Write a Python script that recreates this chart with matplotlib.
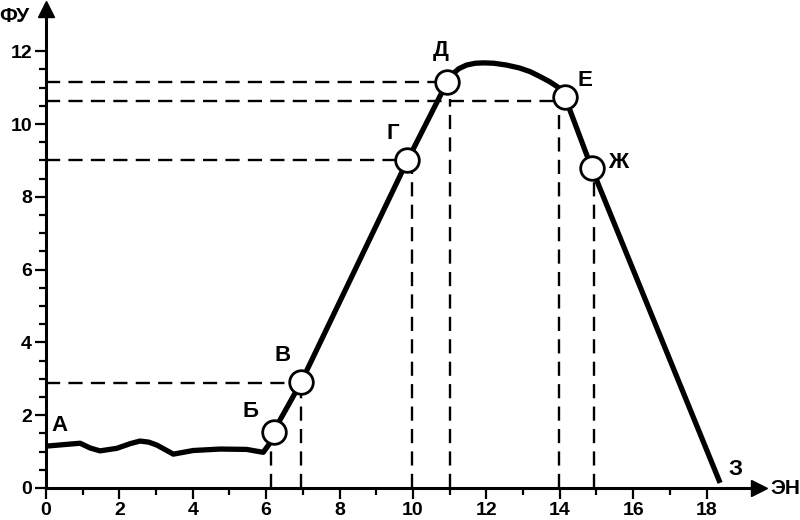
import matplotlib
matplotlib.use('Agg')
import matplotlib.pyplot as plt

plt.rcParams['font.family'] = ['Liberation Sans', 'DejaVu Sans']
plt.rcParams['font.weight'] = 'bold'

# основная кривая
curve_x = [0.0, 0.93, 1.2, 1.47, 1.93, 2.3, 2.56, 2.8, 3.02, 3.47, 4.01, 4.74, 5.47, 5.92, 6.1,
           6.2, 6.95, 9.85, 10.93, 11.1, 11.25, 11.46, 11.7, 11.92, 12.2, 12.55, 12.9, 13.19,
           13.45, 13.73, 14.0, 14.14, 14.87, 18.37]
curve_y = [1.15, 1.23, 1.1, 1.02, 1.09, 1.22, 1.29, 1.26, 1.18, 0.93, 1.03, 1.07, 1.06, 0.98, 1.23,
           1.55, 2.9, 9.0, 11.15, 11.39, 11.52, 11.62, 11.67, 11.68, 11.67, 11.62, 11.54, 11.44,
           11.31, 11.16, 10.98, 10.75, 8.79, 0.14]

# точки с кружками
pts_x = [6.2, 6.95, 9.85, 10.93, 14.14, 14.87]
pts_y = [1.55, 2.9, 9.0, 11.15, 10.75, 8.79]

# подписи точек
lbl_text = ['А', 'Б', 'В', 'Г', 'Д', 'Е', 'Ж', 'З']
lbl_x = [0.38, 5.56, 6.46, 9.46, 10.76, 14.69, 15.6, 18.8]
lbl_y = [1.73, 2.09, 3.65, 9.75, 12.03, 11.2, 8.93, 0.5]

# пунктирные линии
hline_y = [2.88, 9.0, 11.15, 10.64]
hline_x = [6.85, 9.75, 10.85, 14.0]
vline_x = [6.13, 6.94, 9.97, 11.0, 13.98, 14.93]
vline_y = [1.45, 2.8, 8.9, 10.7, 10.6, 8.7]

fig = plt.figure(figsize=(8, 5.2), dpi=100)
ax = fig.add_axes([46 / 800, 32 / 520, 713 / 800, 479 / 520])
ax.set_xlim(0, 19.43)
ax.set_ylim(0, 13.16)

for s in ['top', 'right']:
    ax.spines[s].set_visible(False)
for s in ['left', 'bottom']:
    ax.spines[s].set_linewidth(2.2)

ax.set_xticks(range(0, 19, 2))
ax.set_yticks(range(0, 13, 2))
ax.set_xticks([1, 3, 5, 7, 9, 11, 13, 15, 17], minor=True)
ax.set_yticks([v / 2 for v in range(1, 25) if v % 4 != 0], minor=True)
ax.tick_params(which='major', length=8, width=1.6, labelsize=14, pad=2)
ax.tick_params(which='minor', length=5, width=1.6)

# стрелки осей
ax.plot(1, 0, '>k', ms=12, transform=ax.get_yaxis_transform(), clip_on=False)
ax.plot(0, 1, '^k', ms=12, transform=ax.get_xaxis_transform(), clip_on=False)

for y, x in zip(hline_y, hline_x):
    ax.plot([0, x], [y, y], color='black', lw=1.7, dashes=(6, 3.5), zorder=2)
for x, y in zip(vline_x, vline_y):
    ax.plot([x, x], [0, y], color='black', lw=1.7, dashes=(6, 3.5), zorder=2)

ax.plot(curve_x, curve_y, color='black', lw=3.8, solid_joinstyle='round',
        solid_capstyle='butt', zorder=3)
ax.plot(pts_x, pts_y, 'o', ms=17, mfc='white', mec='black', mew=2, zorder=4)

for t, x, y in zip(lbl_text, lbl_x, lbl_y):
    ax.text(x, y, t, fontsize=16, fontweight='bold', ha='center', va='center')

ax.text(20.15, 0, 'ЭН', fontsize=15, fontweight='bold', ha='center', va='center', clip_on=False)
ax.text(-0.85, 12.95, 'ФУ', fontsize=15, fontweight='bold', ha='center', va='center', clip_on=False)

fig.savefig('out.png', dpi=100)
